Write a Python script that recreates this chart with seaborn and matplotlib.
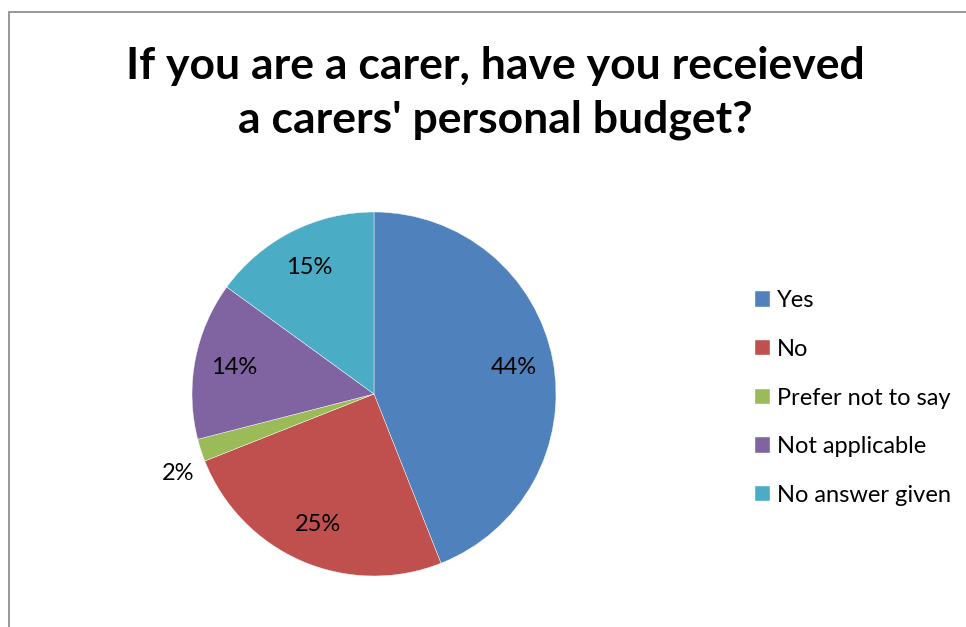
import numpy as np
import matplotlib
matplotlib.use("Agg")
import matplotlib.pyplot as plt
import seaborn as sns
from matplotlib.patches import Rectangle

categories = ["Yes", "No", "Prefer not to say", "Not applicable", "No answer given"]
values = [44, 25, 2, 14, 15]
colors = ["#4F81BD", "#C0504D", "#9BBB59", "#8064A2", "#4BACC6"]
title = "If you are a carer, have you receieved\na carers' personal budget?"

sns.set_theme(style="white")
plt.rcParams['font.family'] = ['Lato', 'DejaVu Sans']
plt.rcParams['text.color'] = 'black'

W, H = 966, 627
fig = plt.figure(figsize=(W / 100, H / 100), dpi=100)
fig.patch.set_facecolor("white")

# border
fig.add_artist(Rectangle((9 / W, -0.05), 1.1, 1 - 12 / H + 0.05, transform=fig.transFigure,
                         fill=False, edgecolor="#868686", linewidth=1.2))

cx, cy, r = 374, 394, 182
ax = fig.add_axes([(cx - r) / W, (H - cy - r) / H, 2 * r / W, 2 * r / H])
wedges, texts, autotexts = ax.pie(values, colors=colors, startangle=90, counterclock=False,
                                  autopct=lambda p: f"{p:.0f}%", pctdistance=0.78,
                                  wedgeprops=dict(edgecolor="white", linewidth=0.3),
                                  textprops=dict(fontsize=17, color="black"))
ax.set_xlim(-1, 1)
ax.set_ylim(-1, 1)
ax.set_aspect("equal")
ax.axis("off")

# small slice label outside
for w, t in zip(wedges, autotexts):
    frac = (w.theta2 - w.theta1) / 360
    if frac < 0.05:
        ang = np.deg2rad((w.theta1 + w.theta2) / 2 + 4)
        t.set_position((1.16 * np.cos(ang), 1.16 * np.sin(ang)))

fig.text(495 / W, 1 - 93 / H, title, ha="center", va="center", fontsize=32,
         fontweight="bold", linespacing=1.42, color="black")

leg = fig.legend(wedges, categories, loc="upper left", bbox_to_anchor=(746 / W, 1 - 281 / H),
                 frameon=False, fontsize=17, handlelength=0.62, handleheight=0.62,
                 handletextpad=0.3, labelspacing=1.17, borderaxespad=0)
for t in leg.get_texts():
    t.set_color("black")

fig.savefig("out.png", dpi=100, facecolor="white")
